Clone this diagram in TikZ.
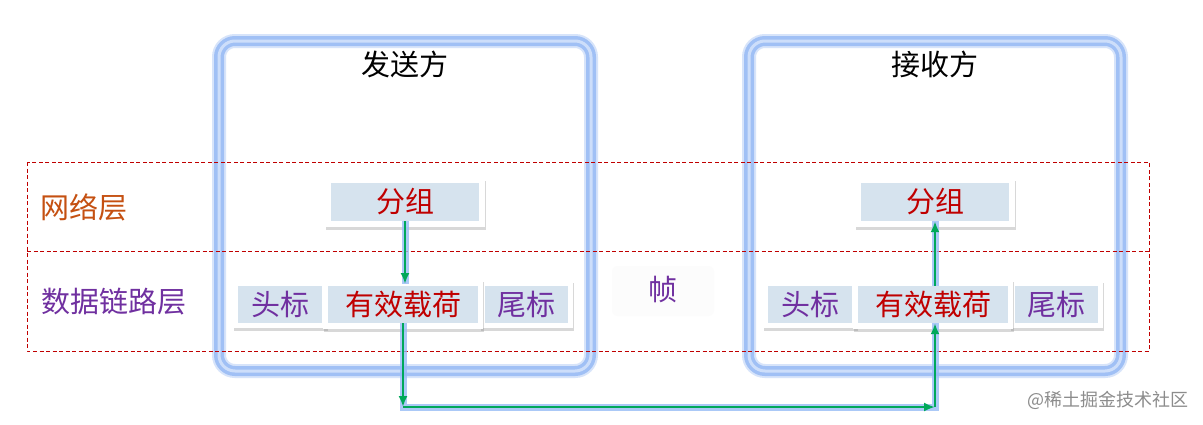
\documentclass[tikz,border=0pt]{standalone}
\usepackage{fontspec}
\setmainfont{Noto Sans CJK SC}
\usetikzlibrary{arrows.meta,shadows}
\definecolor{bandblue}{RGB}{160,192,245}
\definecolor{bandlight}{RGB}{205,222,250}
\definecolor{bandglow}{RGB}{215,228,250}
\definecolor{cellfill}{RGB}{214,227,238}
\definecolor{darkred}{RGB}{192,0,0}
\definecolor{orangered}{RGB}{197,80,17}
\definecolor{purp}{RGB}{112,48,160}
\definecolor{arrgreen}{RGB}{0,168,90}
\definecolor{halo}{RGB}{150,188,245}
\tikzset{
  big/.style={font=\fontsize{29pt}{34pt}\selectfont},
  outerbox/.style={fill=white, draw=none, inner sep=0pt,
     drop shadow={opacity=0.3, shadow xshift=1pt, shadow yshift=-2.5pt, fill=gray}},
  innerbox/.style={fill=cellfill, draw=none, inner sep=0pt, big},
  frameglow/.style={draw=bandglow, line width=14pt, rounded corners=16pt},
  frame/.style={draw=bandblue, line width=10pt, rounded corners=16pt},
  frameinner/.style={draw=bandlight, line width=3pt, rounded corners=16pt},
  layerline/.style={draw=darkred, line width=0.8pt, dash pattern=on 4pt off 2.5pt},
  halo/.style={draw=halo, line width=7pt, opacity=0.8},
  flow/.style={draw=arrgreen, line width=2.2pt, -{Latex[length=11pt,width=9pt]}},
}
\begin{document}
\begin{tikzpicture}[x=1pt,y=-1pt]
\useasboundingbox (0,0) rectangle (1203,424);
\fill[white] (0,0) rectangle (1203,424);

% big frames
\foreach \dx in {0,530}{
  \path[frameglow] (219+\dx,41) rectangle (591+\dx,371);
  \path[frame] (219+\dx,41) rectangle (591+\dx,371);
  \path[frameinner] (219+\dx,41) rectangle (591+\dx,371);
}
\node[big, text=black] (send) at (405,64) {发送方};
\node[big, text=black] (recv) at (935,64) {接收方};

% layer lines
\path[layerline] (27,162) rectangle (1149,351);
\path[layerline] (27,251) -- (1149,251);
\node[big, text=orangered] (net) at (84,207) {网络层};
\node[big, text=purp] (dll) at (114,302) {数据链路层};

% frame label
\fill[rounded corners=6pt, fill=black!1.2] (612,266) rectangle (714,316);
\node[big, text=purp] (zhen) at (663,290) {帧};

% packet boxes
\node[outerbox, minimum width=160pt, minimum height=49pt] (sgo) at (405,202.5) {};
\node[innerbox, minimum width=148pt, minimum height=38pt, text=darkred] (sg) at (405,202) {分组};
\node[outerbox, minimum width=160pt, minimum height=49pt] (rgo) at (935,202.5) {};
\node[innerbox, minimum width=148pt, minimum height=38pt, text=darkred] (rg) at (935,202) {分组};

% frame rows
\foreach \dx/\p in {0/s,530/r}{
  \node[outerbox, minimum width=94pt, minimum height=48pt] (\p ho) at (280+\dx,304) {};
  \node[innerbox, minimum width=84pt, minimum height=37pt, text=purp] (\p h) at (280+\dx,304.5) {头标};
  \node[outerbox, minimum width=93pt, minimum height=48pt] (\p to) at (526.5+\dx,304) {};
  \node[innerbox, minimum width=83pt, minimum height=37pt, text=purp] (\p t) at (526.5+\dx,304.5) {尾标};
  \node[outerbox, minimum width=160pt, minimum height=50pt] (\p po) at (403+\dx,304) {};
  \node[innerbox, minimum width=150pt, minimum height=37pt, text=darkred] (\p p) at (403+\dx,304.5) {有效载荷};
}

% corners
\coordinate (c1) at (403,407);
\coordinate (c2) at (935,407);

% halos
\path[halo] (sg.south -| 405,0) -- (405,284);
\path[halo] (sp.south) -- (c1) -- (c2) -- (rp.south -| c2);
\path[halo] (rp.north -| c2) -- (rg.south);

% green flow
\draw[flow] (sg.south -| 405,0) -- (405,284);
\draw[flow] (sp.south) -- (c1);
\draw[flow] (c1) -- (c2);
\draw[flow] (c2) -- (rp.south -| c2);
\draw[flow] (rp.north -| c2) -- (rg.south);

% watermark
\node[text=black!45, font=\fontsize{18pt}{20pt}\selectfont] (wm) at (1108,400) {@稀土掘金技术社区};
\end{tikzpicture}
\end{document}
